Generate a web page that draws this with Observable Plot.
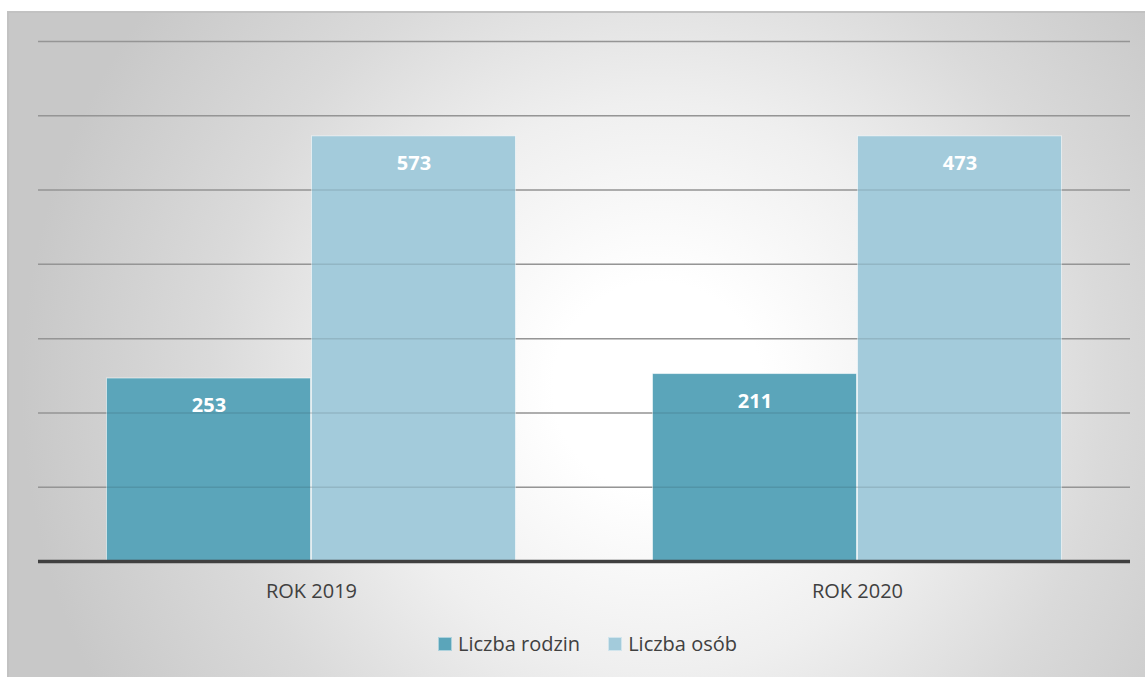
<!DOCTYPE html>
<html>
<head>
<meta charset="utf-8">
<script src="https://cdn.jsdelivr.net/npm/d3@7"></script>
<script src="https://cdn.jsdelivr.net/npm/@observablehq/plot@0.6"></script>
<style>
  html, body { margin: 0; padding: 0; background: #ffffff; }
  body { width: 1145px; height: 677px; position: relative; overflow: hidden; font-family: "Open Sans", sans-serif; }
  #bg { position: absolute; left: 7px; top: 11px; width: 1140px; height: 670px;
        border-top: 2px solid #c2c2c2; border-left: 2px solid #c2c2c2; box-sizing: border-box;
        background: radial-gradient(circle at 57% 56%, #ffffff 0%, #ffffff 14%, #efefef 38%, #dadada 60%, #c8c8c8 85%); }
  #chart { position: absolute; left: 0; top: 0; }
  #legend { position: absolute; left: 0; top: 630px; width: 1145px; display: flex; justify-content: center;
            gap: 28px; font-size: 20px; color: #404040; padding-left: 30px; box-sizing: border-box; }
  .item { display: flex; align-items: center; gap: 6px; }
  .sw { width: 12px; height: 12px; display: inline-block; border: 1px solid rgba(255,255,255,0.5); }
</style>
</head>
<body>
<div id="bg"></div>
<div id="chart"></div>
<div id="legend"></div>
<script>
const years = ["ROK 2019", "ROK 2020"];
const seriesNames = ["Liczba rodzin", "Liczba osób"];
const seriesColors = ["#5ba5ba", "#a3cbdb"];
// bar heights as drawn (grid units of 100)
const rodzinHeights = [247, 253];
const osobHeights = [573, 573];
// data labels printed on the bars
const rodzinLabels = ["253", "211"];
const osobLabels = ["573", "473"];
const gridTicks = [100, 200, 300, 400, 500, 600, 700];

const table = [];
years.forEach((y, i) => {
  table.push({year: y, series: seriesNames[0], height: rodzinHeights[i], label: rodzinLabels[i]});
  table.push({year: y, series: seriesNames[1], height: osobHeights[i], label: osobLabels[i]});
});

const plot = Plot.plot({
  width: 1145,
  height: 620,
  marginLeft: 37,
  marginRight: 15,
  marginTop: 41,
  marginBottom: 59,
  style: {background: "transparent", fontFamily: "Open Sans, sans-serif"},
  facet: {data: table, x: "year"},
  fx: {domain: years, padding: 0, axis: "bottom", label: null, tickSize: 0, tickPadding: 22, fontSize: 20},
  x: {domain: seriesNames, paddingInner: 0, paddingOuter: 0.327, axis: null},
  y: {domain: [0, 700], axis: null},
  color: {domain: seriesNames, range: seriesColors},
  marks: [
    Plot.ruleY(gridTicks, {stroke: "#a6a6a6", strokeWidth: 1.5}),
    Plot.barY(table, {x: "series", y: "height", fill: "series", stroke: "#ffffff", strokeOpacity: 0.55, strokeWidth: 1, inset: 0.5}),
    Plot.ruleY(gridTicks, {stroke: "#000000", strokeOpacity: 0.1, strokeWidth: 1.5}),
    Plot.ruleY([0], {stroke: "#404040", strokeWidth: 3.5}),
    Plot.text(table, {x: "series", y: "height", text: "label", dy: 28, fill: "#ffffff", fontWeight: "bold", fontSize: 20})
  ]
});
plot.querySelectorAll('g[aria-label="fx-axis tick label"] text, g[aria-label="fx-axis"] text').forEach(t => {
  t.setAttribute("fill", "#404040");
  t.style.fontSize = "20px";
});
document.getElementById("chart").appendChild(plot);

const legend = document.getElementById("legend");
seriesNames.forEach((n, i) => {
  const it = document.createElement("span");
  it.className = "item";
  const sw = document.createElement("span");
  sw.className = "sw";
  sw.style.background = seriesColors[i];
  const tx = document.createElement("span");
  tx.textContent = n;
  it.appendChild(sw);
  it.appendChild(tx);
  legend.appendChild(it);
});
</script>
</body>
</html>
